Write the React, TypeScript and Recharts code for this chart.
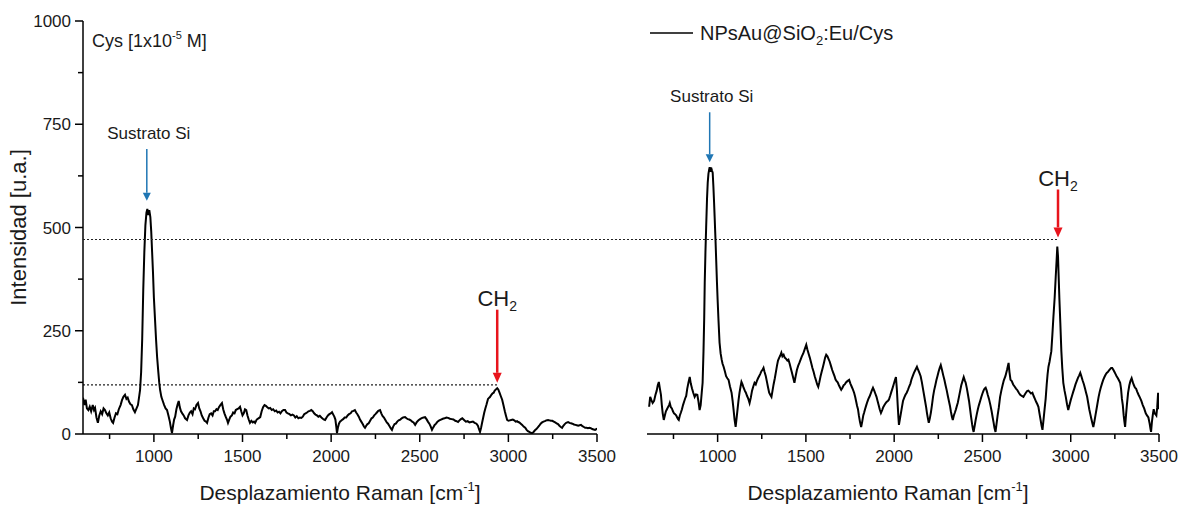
import React from "react";
import {
  LineChart,
  Line,
  XAxis,
  YAxis,
  ReferenceLine,
  Legend,
} from "recharts";

const W = 1178;
const H = 505;
const FONT = '"Liberation Sans", Arial, Helvetica, sans-serif';

// plot boxes (page pixels)
const LEFT_PLOT = { left: 83, right: 597 };
const RIGHT_PLOT = { left: 647, right: 1159 };
const PLOT_TOP = 21;
const PLOT_BOTTOM = 434;

// axes
const xTicks = [750, 1000, 1250, 1500, 1750, 2000, 2250, 2500, 2750, 3000, 3250, 3500];
const yTicks = [0, 125, 250, 375, 500, 625, 750, 875, 1000];

// Cys 1e-5 M, first spectrum (left panel)
const leftShift = [
  600, 608, 615, 622, 630, 638, 646, 655, 662, 668, 676, 684, 692, 700, 708, 716, 724, 732, 740, 748,
  756, 764, 770, 778, 786, 794, 802, 812, 820, 828, 837, 845, 852, 860, 868, 876, 884, 893, 902, 910,
  916, 922, 928, 934, 940, 946, 952, 958, 963, 968, 974, 980, 985, 990, 995, 1000, 1006, 1012, 1018, 1025,
  1030, 1035, 1042, 1050, 1058, 1066, 1074, 1082, 1090, 1096, 1102, 1108, 1114, 1120, 1127, 1134, 1140, 1146, 1153, 1160,
  1168, 1176, 1187, 1195, 1203, 1210, 1218, 1225, 1232, 1240, 1249, 1256, 1263, 1270, 1278, 1286, 1294, 1300, 1308, 1315,
  1323, 1331, 1338, 1345, 1353, 1360, 1367, 1375, 1384, 1391, 1398, 1405, 1412, 1418, 1425, 1432, 1440, 1447, 1455, 1462,
  1470, 1478, 1486, 1493, 1500, 1507, 1514, 1521, 1528, 1535, 1542, 1550, 1558, 1565, 1571, 1580, 1590, 1600, 1608, 1616,
  1624, 1632, 1640, 1648, 1656, 1665, 1673, 1682, 1690, 1698, 1706, 1714, 1722, 1731, 1740, 1748, 1756, 1765, 1773, 1782,
  1790, 1798, 1806, 1815, 1824, 1832, 1840, 1848, 1856, 1864, 1872, 1880, 1888, 1896, 1904, 1912, 1920, 1928, 1936, 1945,
  1953, 1960, 1966, 1974, 1982, 1990, 1998, 2005, 2012, 2018, 2024, 2029, 2033, 2038, 2044, 2050, 2056, 2061, 2068, 2076,
  2085, 2093, 2101, 2110, 2118, 2126, 2134, 2141, 2148, 2156, 2163, 2170, 2178, 2185, 2191, 2198, 2205, 2212, 2220, 2228,
  2235, 2243, 2250, 2258, 2266, 2276, 2283, 2290, 2298, 2306, 2314, 2321, 2328, 2336, 2343, 2350, 2358, 2365, 2373, 2381,
  2390, 2398, 2406, 2417, 2425, 2433, 2441, 2449, 2457, 2465, 2474, 2482, 2490, 2498, 2506, 2514, 2522, 2530, 2538, 2546,
  2554, 2562, 2569, 2576, 2584, 2592, 2600, 2610, 2620, 2630, 2640, 2650, 2660, 2670, 2680, 2690, 2700, 2708, 2716, 2724,
  2732, 2740, 2750, 2760, 2770, 2780, 2790, 2800, 2810, 2820, 2828, 2834, 2840, 2846, 2852, 2858, 2864, 2870, 2877, 2885,
  2892, 2897, 2904, 2910, 2917, 2923, 2930, 2937, 2943, 2950, 2957, 2965, 2972, 2980, 2986, 2993, 3000, 3008, 3016, 3025,
  3033, 3041, 3049, 3055, 3062, 3070, 3078, 3086, 3095, 3103, 3110, 3118, 3126, 3134, 3142, 3150, 3158, 3166, 3174, 3182,
  3190, 3198, 3206, 3214, 3224, 3232, 3240, 3248, 3256, 3264, 3272, 3280, 3288, 3296, 3303, 3310, 3318, 3326, 3337, 3345,
  3353, 3361, 3370, 3378, 3386, 3394, 3402, 3410, 3418, 3426, 3433, 3441, 3449, 3457, 3465, 3473, 3481, 3489, 3497, 3500,
];
const leftIntensity = [
  88, 70, 83, 62, 58, 66, 55, 70, 58, 63, 40, 27, 45, 55, 48, 62, 58, 50, 45, 52,
  38, 30, 27, 40, 50, 48, 60, 70, 82, 90, 95, 85, 88, 78, 72, 70, 60, 53, 62, 70,
  88, 107, 150, 230, 350, 440, 505, 536, 545, 530, 542, 525, 490, 440, 390, 330, 280, 230, 187, 150,
  125, 107, 90, 80, 70, 62, 58, 45, 30, 15, 2, 20, 35, 42, 60, 72, 80, 65, 55, 50,
  45, 38, 34, 45, 52, 55, 48, 62, 60, 70, 75, 62, 55, 45, 38, 32, 30, 27, 40, 48,
  50, 45, 55, 55, 60, 58, 65, 70, 75, 60, 50, 42, 35, 27, 35, 42, 45, 52, 50, 58,
  60, 62, 66, 55, 45, 50, 60, 58, 45, 35, 27, 32, 28, 30, 27, 35, 38, 41, 55, 65,
  70, 68, 65, 62, 63, 58, 60, 55, 57, 52, 54, 50, 55, 58, 58, 52, 50, 48, 45, 47,
  45, 40, 43, 38, 40, 39, 42, 48, 50, 52, 55, 56, 58, 55, 50, 47, 45, 42, 44, 40,
  37, 35, 34, 40, 45, 48, 50, 53, 47, 42, 35, 18, 2, 15, 25, 30, 32, 34, 36, 40,
  40, 45, 48, 50, 55, 56, 58, 52, 48, 42, 35, 30, 24, 18, 15, 20, 24, 26, 32, 38,
  40, 45, 48, 52, 56, 58, 50, 44, 40, 34, 28, 25, 20, 14, 10, 18, 24, 25, 30, 33,
  35, 38, 40, 41, 38, 36, 35, 33, 30, 28, 22, 28, 32, 35, 37, 39, 40, 41, 36, 30,
  25, 18, 10, 16, 22, 25, 30, 33, 35, 37, 38, 40, 39, 37, 36, 35, 32, 31, 29, 33,
  36, 38, 34, 30, 31, 28, 29, 30, 27, 25, 20, 12, 5, 15, 28, 40, 52, 62, 72, 85,
  88, 90, 95, 98, 100, 105, 108, 111, 108, 100, 92, 83, 70, 55, 45, 34, 32, 33, 34, 35,
  33, 30, 31, 29, 28, 25, 22, 18, 15, 10, 7, 5, 3, 2, 5, 9, 12, 16, 20, 25,
  28, 30, 31, 33, 34, 33, 32, 32, 30, 28, 26, 24, 20, 17, 15, 20, 24, 27, 29, 27,
  26, 25, 23, 22, 21, 20, 21, 22, 19, 17, 15, 15, 14, 15, 14, 12, 11, 10, 12, 11,
];

// NPsAu@SiO2:Eu/Cys spectrum (right panel)
const rightShift = [
  612, 618, 625, 632, 640, 648, 655, 661, 667, 673, 679, 684, 689, 695, 701, 707, 713, 719, 725, 729,
  735, 741, 747, 753, 759, 765, 771, 776, 780, 786, 792, 798, 804, 810, 816, 822, 828, 835, 842, 848,
  855, 862, 870, 877, 885, 891, 898, 904, 910, 915, 920, 924, 927, 931, 935, 940, 944, 948, 952, 955,
  959, 963, 968, 972, 976, 980, 983, 988, 992, 996, 1000, 1005, 1011, 1017, 1023, 1028, 1034, 1041, 1048, 1055,
  1062, 1070, 1079, 1085, 1090, 1096, 1102, 1108, 1113, 1118, 1124, 1130, 1135, 1141, 1147, 1154, 1160, 1167, 1174, 1181,
  1188, 1195, 1202, 1209, 1216, 1222, 1229, 1235, 1241, 1248, 1254, 1260, 1266, 1273, 1280, 1286, 1292, 1298, 1305, 1311,
  1317, 1324, 1330, 1336, 1342, 1349, 1355, 1361, 1367, 1374, 1380, 1388, 1395, 1401, 1408, 1414, 1420, 1427, 1435, 1442,
  1449, 1456, 1463, 1470, 1477, 1485, 1493, 1502, 1508, 1515, 1522, 1530, 1537, 1544, 1550, 1557, 1564, 1570, 1576, 1583,
  1589, 1595, 1602, 1609, 1615, 1622, 1628, 1635, 1642, 1649, 1655, 1662, 1668, 1674, 1680, 1687, 1694, 1700, 1707, 1714,
  1720, 1727, 1735, 1745, 1752, 1759, 1766, 1773, 1779, 1785, 1790, 1795, 1800, 1806, 1813, 1819, 1825, 1830, 1835, 1842,
  1848, 1854, 1860, 1867, 1873, 1880, 1887, 1893, 1900, 1906, 1912, 1918, 1925, 1932, 1938, 1945, 1952, 1958, 1964, 1970,
  1977, 1984, 1990, 1997, 2004, 2010, 2015, 2020, 2024, 2027, 2032, 2038, 2044, 2050, 2057, 2064, 2071, 2078, 2085, 2092,
  2098, 2105, 2112, 2120, 2129, 2136, 2143, 2150, 2157, 2163, 2169, 2175, 2181, 2186, 2191, 2196, 2202, 2208, 2214, 2220,
  2226, 2233, 2239, 2245, 2251, 2258, 2264, 2271, 2278, 2285, 2291, 2298, 2304, 2310, 2316, 2321, 2327, 2332, 2338, 2344,
  2350, 2355, 2360, 2367, 2374, 2380, 2387, 2394, 2400, 2405, 2412, 2418, 2424, 2430, 2436, 2442, 2446, 2450, 2456, 2462,
  2468, 2474, 2480, 2487, 2494, 2500, 2506, 2512, 2518, 2524, 2530, 2537, 2545, 2552, 2558, 2563, 2568, 2574, 2580, 2586,
  2593, 2600, 2607, 2614, 2621, 2630, 2639, 2648, 2653, 2659, 2666, 2674, 2682, 2690, 2698, 2706, 2714, 2723, 2732, 2739,
  2746, 2753, 2760, 2767, 2775, 2783, 2790, 2797, 2804, 2811, 2817, 2823, 2829, 2835, 2840, 2846, 2852, 2858, 2864, 2869,
  2874, 2880, 2885, 2890, 2896, 2902, 2909, 2915, 2920, 2924, 2928, 2931, 2936, 2941, 2947, 2952, 2958, 2965, 2972, 2979,
  2986, 2993, 3000, 3007, 3014, 3020, 3027, 3034, 3041, 3048, 3054, 3060, 3067, 3075, 3081, 3087, 3093, 3099, 3105, 3110,
  3116, 3122, 3128, 3134, 3140, 3146, 3152, 3158, 3164, 3170, 3177, 3184, 3191, 3198, 3204, 3210, 3217, 3223, 3229, 3235,
  3242, 3248, 3254, 3260, 3267, 3273, 3280, 3285, 3290, 3295, 3300, 3304, 3308, 3313, 3318, 3325, 3332, 3338, 3345, 3352,
  3358, 3364, 3370, 3377, 3384, 3392, 3400, 3408, 3416, 3425, 3432, 3440, 3447, 3452, 3455, 3460, 3466, 3470, 3475, 3480,
  3485, 3490, 3495, 3500,
];
const rightIntensity = [
  66, 90, 82, 75, 80, 95, 105, 118, 126, 110, 95, 70, 50, 34, 45, 55, 60, 65, 70, 75,
  65, 62, 55, 50, 48, 45, 40, 36, 34, 45, 52, 60, 70, 78, 86, 92, 110, 125, 138, 122,
  110, 100, 90, 96, 95, 80, 58, 70, 100, 124, 200, 280, 366, 440, 500, 570, 609, 630, 640, 646,
  635, 645, 638, 633, 600, 560, 527, 470, 420, 370, 325, 275, 221, 195, 180, 170, 163, 152, 140, 135,
  131, 115, 100, 80, 60, 35, 17, 40, 60, 80, 100, 115, 126, 120, 112, 105, 100, 92, 85, 75,
  88, 105, 115, 124, 120, 128, 135, 140, 145, 152, 155, 160, 150, 140, 125, 112, 100, 95, 90, 105,
  120, 135, 150, 165, 178, 185, 190, 197, 188, 192, 185, 182, 178, 180, 170, 160, 150, 138, 124, 140,
  155, 165, 172, 180, 188, 195, 205, 216, 205, 195, 185, 172, 160, 150, 140, 130, 120, 114, 125, 140,
  150, 160, 172, 185, 192, 188, 182, 175, 165, 155, 148, 140, 132, 128, 125, 118, 112, 107, 112, 118,
  120, 125, 128, 131, 122, 115, 108, 100, 90, 78, 68, 60, 45, 30, 17, 30, 45, 52, 60, 70,
  78, 85, 90, 98, 105, 112, 105, 98, 90, 80, 70, 60, 51, 58, 65, 70, 75, 78, 80, 83,
  92, 102, 110, 120, 130, 138, 110, 70, 40, 22, 35, 50, 65, 80, 88, 95, 100, 107, 115, 122,
  132, 140, 148, 155, 163, 155, 148, 140, 125, 110, 95, 80, 65, 50, 38, 27, 38, 52, 70, 90,
  105, 118, 130, 140, 150, 160, 167, 155, 142, 130, 118, 105, 92, 80, 68, 55, 42, 34, 45, 52,
  60, 68, 75, 90, 105, 118, 128, 138, 130, 124, 110, 95, 80, 60, 40, 22, 12, 5, 20, 35,
  48, 60, 70, 80, 90, 98, 105, 110, 112, 105, 95, 85, 70, 55, 40, 28, 15, 5, 25, 45,
  65, 90, 105, 118, 130, 140, 155, 172, 150, 131, 128, 120, 115, 110, 106, 100, 95, 92, 90, 95,
  100, 104, 105, 102, 98, 100, 92, 85, 78, 72, 66, 50, 35, 20, 10, 35, 60, 85, 120, 145,
  163, 175, 188, 200, 240, 284, 330, 380, 420, 454, 430, 390, 325, 270, 200, 160, 124, 105, 90, 72,
  58, 70, 82, 92, 102, 110, 120, 128, 136, 142, 148, 140, 130, 120, 110, 100, 90, 75, 60, 50,
  38, 27, 17, 30, 45, 60, 75, 90, 102, 112, 122, 131, 138, 144, 148, 150, 154, 157, 160, 160,
  155, 150, 145, 140, 135, 130, 124, 110, 85, 70, 45, 30, 17, 45, 70, 100, 118, 128, 135, 125,
  118, 112, 110, 102, 95, 88, 80, 70, 62, 50, 45, 40, 25, 12, 5, 30, 50, 60, 50, 48,
  45, 65, 100, 60,
];

const leftRows = leftShift.map((x, i) => ({ x, y: leftIntensity[i] }));
const rightRows = rightShift.map((x, i) => ({ x, y: rightIntensity[i] }));

const BLUE = "#1f76b4";
const RED = "#e8141c";

const XTick = (props: any) => {
  const { x, y, payload } = props;
  const major = payload.value % 500 === 0;
  return (
    <g>
      <line x1={x} x2={x} y1={y} y2={y + (major ? 8 : 5)} stroke="#000" strokeWidth={1.5} />
      {major && (
        <text x={x} y={y + 28} textAnchor="middle" fontSize={17} fontFamily={FONT} fill="#1a1a1a">
          {payload.value}
        </text>
      )}
    </g>
  );
};

const YTick = (props: any) => {
  const { x, y, payload } = props;
  const major = payload.value % 250 === 0;
  return (
    <g>
      <line x1={x - (major ? 8 : 5)} x2={x} y1={y} y2={y} stroke="#000" strokeWidth={1.5} />
      {major && (
        <text x={x - 12} y={y + 6} textAnchor="end" fontSize={17} fontFamily={FONT} fill="#1a1a1a">
          {payload.value}
        </text>
      )}
    </g>
  );
};

const xTitle = (dx: number, dy: number) => (props: any) => {
  const vb = props.viewBox;
  return (
    <text
      x={vb.x + vb.width / 2 + dx}
      y={vb.y + dy}
      textAnchor="middle"
      fontSize={21}
      fontFamily={FONT}
      fill="#1a1a1a"
    >
      Desplazamiento Raman [cm
      <tspan dy={-9} fontSize={13}>-1</tspan>
      <tspan dy={9}>]</tspan>
    </text>
  );
};

const yTitle = (props: any) => {
  const vb = props.viewBox;
  const cx = vb.x - 5;
  const cy = vb.y + vb.height / 2;
  return (
    <text
      x={cx}
      y={cy}
      transform={`rotate(-90 ${cx} ${cy})`}
      textAnchor="middle"
      dominantBaseline="central"
      fontSize={22}
      fontFamily={FONT}
      fill="#1a1a1a"
    >
      Intensidad [u.a.]
    </text>
  );
};

// vertical arrow drawn from a ReferenceLine segment, label above it
const arrow = (color: string, width: number, kind: "si" | "ch2") => (p: any) => {
  const { x1, y1, x2, y2 } = p;
  const head = kind === "ch2" ? 10 : 8;
  const half = kind === "ch2" ? 4.5 : 4;
  return (
    <g>
      <line x1={x1} y1={y1} x2={x2} y2={y2 - head} stroke={color} strokeWidth={width} />
      <polygon points={`${x2 - half},${y2 - head} ${x2 + half},${y2 - head} ${x2},${y2}`} fill={color} />
      {kind === "si" ? (
        <text x={x1 + 2} y={y1 - 10} textAnchor="middle" fontSize={17} fontFamily={FONT} fill="#1a1a1a">
          Sustrato Si
        </text>
      ) : (
        <text x={x1} y={y1 - 4} textAnchor="middle" fontSize={22} fontFamily={FONT} fill="#1a1a1a">
          CH
          <tspan dy={5} fontSize={14}>2</tspan>
        </text>
      )}
    </g>
  );
};

// dotted guide that starts at the left panel's y axis
const guideFromLeftAxis = (p: any) => (
  <line
    x1={LEFT_PLOT.left}
    y1={p.y1}
    x2={p.x2}
    y2={p.y2}
    stroke="#222"
    strokeWidth={1.2}
    strokeDasharray="2 2"
  />
);

const renderLegend = () => (
  <svg width={280} height={30}>
    <line x1={2} x2={45} y1={15} y2={15} stroke="#000" strokeWidth={1.5} />
    <text x={52} y={22} fontSize={20} fontFamily={FONT} fill="#1a1a1a">
      NPsAu@SiO
      <tspan dy={5} fontSize={13}>2</tspan>
      <tspan dy={-5}>:Eu/Cys</tspan>
    </text>
  </svg>
);

const axisLine = { stroke: "#000", strokeWidth: 1.5 };

export default function App() {
  return (
    <div
      style={{
        position: "absolute",
        left: 0,
        top: 0,
        width: W,
        height: H,
        background: "#fff",
        overflow: "hidden",
      }}
    >
      <div style={{ position: "absolute", left: 0, top: 0 }}>
        <LineChart
          width={W}
          height={H}
          data={leftRows}
          margin={{ top: PLOT_TOP, right: W - LEFT_PLOT.right, bottom: H - PLOT_BOTTOM - 30, left: LEFT_PLOT.left - 60 }}
        >
          <XAxis
            type="number"
            dataKey="x"
            domain={[600, 3500]}
            ticks={xTicks}
            interval={0}
            allowDataOverflow
            height={30}
            tickSize={0}
            tickMargin={0}
            tickLine={false}
            axisLine={axisLine}
            tick={(p: any) => <XTick {...p} />}
            label={{ content: xTitle(0, 66) }}
          />
          <YAxis
            type="number"
            domain={[0, 1000]}
            ticks={yTicks}
            interval={0}
            allowDataOverflow
            width={60}
            tickSize={0}
            tickMargin={0}
            tickLine={false}
            axisLine={axisLine}
            tick={(p: any) => <YTick {...p} />}
            label={{ content: yTitle }}
          />
          <ReferenceLine
            segment={[{ x: 600, y: 119 }, { x: 2937, y: 119 }]}
            stroke="#222"
            strokeWidth={1.2}
            strokeDasharray="2 2"
            ifOverflow="visible"
          />
          <ReferenceLine
            segment={[{ x: 960, y: 690 }, { x: 960, y: 565 }]}
            ifOverflow="visible"
            shape={arrow(BLUE, 1.5, "si")}
          />
          <ReferenceLine
            segment={[{ x: 2937, y: 301 }, { x: 2937, y: 124 }]}
            ifOverflow="visible"
            shape={arrow(RED, 2.5, "ch2")}
          />
          <Line
            type="linear"
            dataKey="y"
            stroke="#000"
            strokeWidth={2}
            dot={false}
            isAnimationActive={false}
          />
        </LineChart>
      </div>

      <div style={{ position: "absolute", left: 0, top: 0 }}>
        <LineChart
          width={W}
          height={H}
          data={rightRows}
          margin={{ top: PLOT_TOP, right: W - RIGHT_PLOT.right, bottom: H - PLOT_BOTTOM - 30, left: RIGHT_PLOT.left }}
        >
          <XAxis
            type="number"
            dataKey="x"
            domain={[600, 3500]}
            ticks={xTicks}
            interval={0}
            allowDataOverflow
            height={30}
            tickSize={0}
            tickMargin={0}
            tickLine={false}
            axisLine={axisLine}
            tick={(p: any) => <XTick {...p} />}
            label={{ content: xTitle(-15, 66) }}
          />
          <YAxis hide type="number" domain={[0, 1000]} allowDataOverflow />
          <Legend
            layout="horizontal"
            verticalAlign="middle"
            align="center"
            wrapperStyle={{ top: 18, left: 648, width: 280, height: 30 }}
            content={renderLegend}
          />
          <ReferenceLine
            segment={[{ x: 600, y: 471 }, { x: 2928, y: 471 }]}
            ifOverflow="visible"
            shape={guideFromLeftAxis}
          />
          <ReferenceLine
            segment={[{ x: 955, y: 779 }, { x: 955, y: 658 }]}
            ifOverflow="visible"
            shape={arrow(BLUE, 1.5, "si")}
          />
          <ReferenceLine
            segment={[{ x: 2928, y: 592 }, { x: 2928, y: 476 }]}
            ifOverflow="visible"
            shape={arrow(RED, 2.5, "ch2")}
          />
          <Line
            type="linear"
            dataKey="y"
            name="NPsAu@SiO2:Eu/Cys"
            stroke="#000"
            strokeWidth={2}
            dot={false}
            isAnimationActive={false}
          />
        </LineChart>
      </div>

      <svg width={W} height={H} style={{ position: "absolute", left: 0, top: 0, pointerEvents: "none" }}>
        <text x={92} y={47} fontSize={18} fontFamily={FONT} fill="#1a1a1a">
          Cys [1x10
          <tspan dy={-8} fontSize={11}>-5</tspan>
          <tspan dy={8}> M]</tspan>
        </text>
      </svg>
    </div>
  );
}
